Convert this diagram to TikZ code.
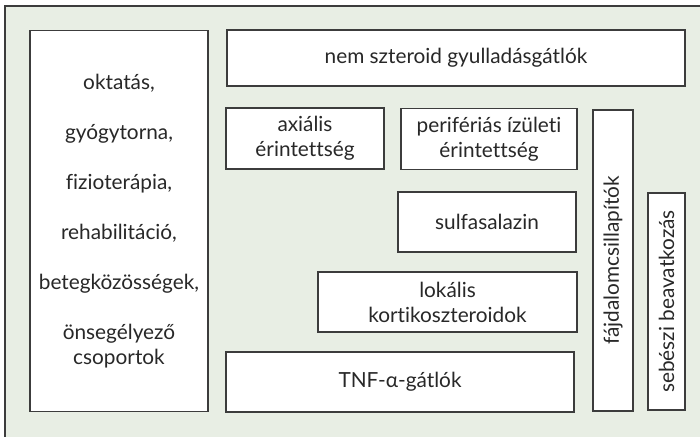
\documentclass[tikz,border=0pt]{standalone}
\usepackage{fontspec}
\setmainfont[Ligatures={NoCommon}]{Lato}
\definecolor{bgreen}{RGB}{232,238,228}
\definecolor{lineg}{RGB}{60,60,60}
\definecolor{txt}{RGB}{40,40,40}
\begin{document}
\begin{tikzpicture}[x=0.5pt,y=-0.5pt,
  box/.style={draw=lineg,line width=0.6pt,fill=white,text=txt,inner sep=0pt,align=center,font=\fontsize{10.4}{12.5}\selectfont}]
\useasboundingbox (0,0) rectangle (700,437);
\fill[white] (0,0) rectangle (700,437);
\fill[bgreen] (5,6) rectangle (700,437);
\draw[lineg,line width=0.6pt] (5,437) -- (5,6) -- (700,6);
% boxes
\node[box,minimum width=89pt,minimum height=190.5pt] (edu) at (119,221)
  {oktatás,\\[12.5pt]gyógytorna,\\[12.5pt]fizioterápia,\\[12.5pt]rehabilitáció,\\[12.5pt]betegközösségek,\\[12.5pt]önsegélyező\\csoportok};
\node[box,minimum width=229pt,minimum height=28pt] (nsaid) at (456,58) {nem szteroid gyulladásgátlók};
\node[box,minimum width=79pt,minimum height=30.5pt] (axial) at (305,138.5) {axiális\\érintettség};
\node[box,minimum width=88pt,minimum height=30.5pt] (periph) at (489,139) {perifériás ízületi\\érintettség};
\node[box,minimum width=89pt,minimum height=30pt] (sulfa) at (487,222) {sulfasalazin};
\node[box,minimum width=129.5pt,minimum height=30pt] (lokal) at (447.5,302) {lokális\\kortikoszteroidok};
\node[box,minimum width=174pt,minimum height=30pt] (tnf) at (400,382) {TNF-α-gátlók};
\node[box,minimum width=150.5pt,minimum height=20pt,rotate=90] (fajd) at (613,260.5) {fájdalomcsillapítók};
\node[box,minimum width=108.5pt,minimum height=18.5pt,rotate=90] (sebesz) at (666.5,301.5) {sebészi beavatkozás};
\end{tikzpicture}
\end{document}
